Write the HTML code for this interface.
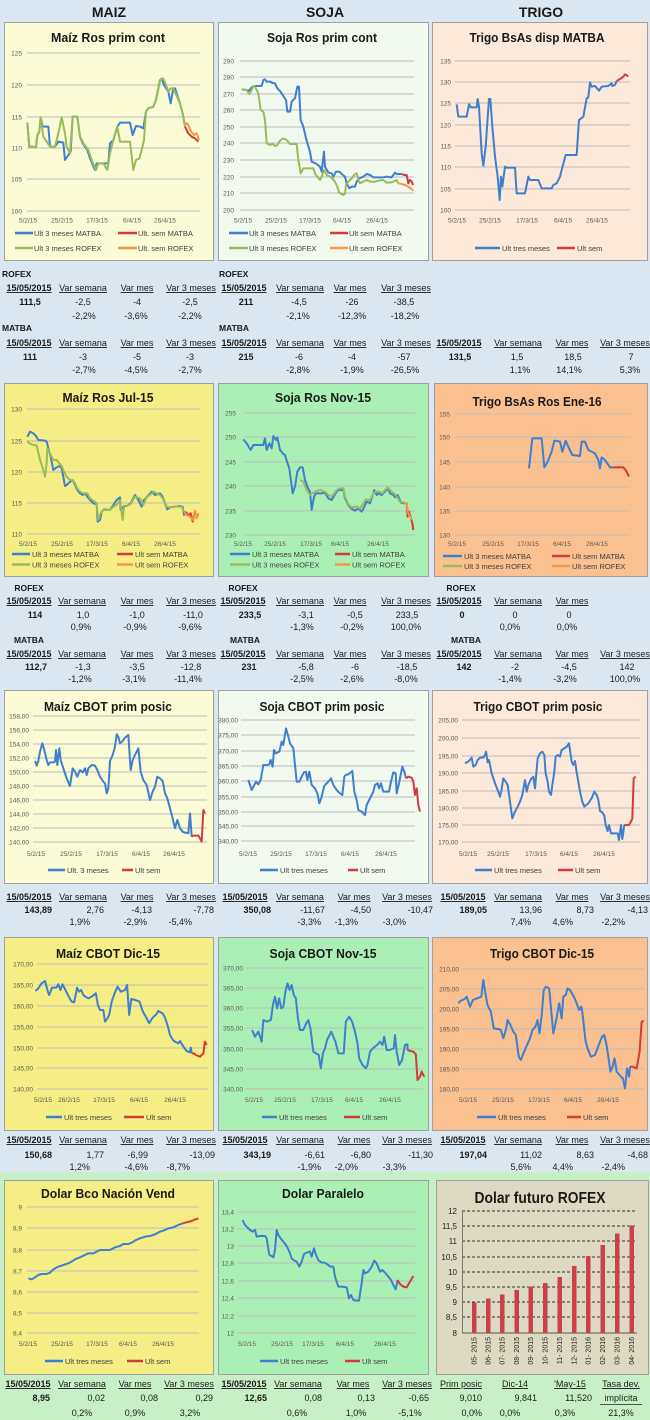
<!DOCTYPE html>
<html><head><meta charset="utf-8">
<style>
html,body{margin:0;padding:0;background:#dbe7f0}
svg{display:block}
text{font-family:"Liberation Sans",Arial,sans-serif}
.t{font-size:13px;font-weight:bold;fill:#1a1a1a;text-anchor:middle}
.yl{font-size:6.5px;fill:#595959;text-anchor:end}
.xl{font-size:6.5px;fill:#595959;text-anchor:middle}
.lg{font-size:7.5px;fill:#404040}
.g{stroke:#bcbcbc;stroke-width:1}
.bx{stroke:#a0a0a0;stroke-width:1}
.ln{fill:none;stroke-width:2;vector-effect:non-scaling-stroke;stroke-linejoin:round}
.b{stroke:#3f7fcf}.r{stroke:#d23b3b}.gr{stroke:#9bbb59}.o{stroke:#f79646}
.tb{font-size:9px;fill:#1a1a1a;text-anchor:middle}
.tb .e{text-anchor:end}
.h{text-decoration:underline}
.bd{font-weight:bold}
.lb{font-size:8.5px;font-weight:bold;fill:#1a1a1a}
</style></head><body>
<svg width="650" height="1420" viewBox="0 0 650 1420" xmlns="http://www.w3.org/2000/svg">
<rect x="0" y="0" width="650" height="1420" fill="#dbe7f0"/>
<rect x="0" y="1172" width="650" height="248" fill="#c8f0c8"/>

<!-- headers -->
<g font-size="14" font-weight="bold" fill="#1a1a1a" text-anchor="middle">
<text x="109" y="17">MAIZ</text><text x="325" y="17">SOJA</text><text x="541" y="17">TRIGO</text>
</g>

<!-- ============ ROW 1 ============ -->
<rect class="bx" x="4.5" y="22.5" width="209" height="238" fill="#fbfbd5"/>
<rect class="bx" x="218.5" y="22.5" width="210" height="238" fill="#f2f9ef"/>
<rect class="bx" x="432.5" y="22.5" width="215" height="238" fill="#fde9d9"/>

<!-- chart 1 Maiz Ros prim cont -->
<text class="t" x="108" y="42" textLength="114" lengthAdjust="spacingAndGlyphs">Maíz Ros prim cont</text>
<g class="g"><line x1="27" x2="200" y1="53" y2="53"/><line x1="27" x2="200" y1="85" y2="85"/><line x1="27" x2="200" y1="117" y2="117"/><line x1="27" x2="200" y1="148" y2="148"/><line x1="27" x2="200" y1="179" y2="179"/><line x1="27" x2="200" y1="211" y2="211"/></g>
<g class="yl"><text x="22" y="55.5">125</text><text x="22" y="87.5">120</text><text x="22" y="119.5">115</text><text x="22" y="150.5">110</text><text x="22" y="181.5">105</text><text x="22" y="213.5">100</text></g>
<g class="xl"><text x="28" y="222.5">5/2/15</text><text x="62" y="222.5">25/2/15</text><text x="97" y="222.5">17/3/15</text><text x="132" y="222.5">6/4/15</text><text x="165" y="222.5">26/4/15</text></g>
<g transform="scale(0.33333)">
<polyline class="ln b" points="82,368 88,440 100,440 108,442 112,405 118,395 122,352 128,380 145,380 150,440 165,440 175,425 190,428 195,480 205,465 212,455 218,350 232,350 240,410 248,430 255,440 262,450 270,475 285,510 290,490 325,490 330,430 340,420 352,380 360,368 390,368 398,405 408,378 420,380 430,385 438,335 445,325 460,320 468,300 480,240 485,236 492,255 505,275 512,310 520,265 525,265 540,310 548,340 555,380"/>
<polyline class="ln gr" points="82,368 88,440 100,440 108,442 112,405 118,395 122,352 130,410 150,440 165,440 175,400 185,352 195,400 200,440 210,460 218,350 232,350 240,410 250,430 265,450 275,480 288,510 295,490 310,490 322,510 330,460 340,420 352,380 360,425 390,425 400,510 408,480 418,475 425,450 432,420 438,335 445,325 460,320 468,300 480,240 490,236 500,260 505,275 512,265 520,265 540,310 548,340 555,380"/>
<polyline class="ln r" points="555,380 565,400 575,410 585,415 595,425"/>
<polyline class="ln o" points="555,372 562,370 572,392 582,405 590,400 597,420"/>
</g>
<g class="lg">
<line class="b" x1="15" x2="33" y1="233" y2="233" stroke-width="2.5"/><text x="34" y="236">Ult 3 meses MATBA</text>
<line class="r" x1="118" x2="137" y1="233" y2="233" stroke-width="2.5"/><text x="138" y="236">Ult. sem MATBA</text>
<line class="gr" x1="15" x2="33" y1="248" y2="248" stroke-width="2.5"/><text x="34" y="251">Ult 3 meses ROFEX</text>
<line class="o" x1="118" x2="137" y1="248" y2="248" stroke-width="2.5"/><text x="138" y="251">Ult. sem ROFEX</text>
</g>

<!-- chart 2 Soja Ros prim cont -->
<text class="t" x="322" y="42" textLength="110" lengthAdjust="spacingAndGlyphs">Soja Ros prim cont</text>
<g class="g"><line x1="240" x2="414" y1="61" y2="61"/><line x1="240" x2="414" y1="77" y2="77"/><line x1="240" x2="414" y1="94" y2="94"/><line x1="240" x2="414" y1="110" y2="110"/><line x1="240" x2="414" y1="127" y2="127"/><line x1="240" x2="414" y1="143" y2="143"/><line x1="240" x2="414" y1="160" y2="160"/><line x1="240" x2="414" y1="177" y2="177"/><line x1="240" x2="414" y1="193" y2="193"/><line x1="240" x2="414" y1="210" y2="210"/></g>
<g class="yl"><text x="234" y="63.5">290</text><text x="234" y="79.5">280</text><text x="234" y="96.5">270</text><text x="234" y="112.5">260</text><text x="234" y="129.5">250</text><text x="234" y="145.5">240</text><text x="234" y="162.5">230</text><text x="234" y="179.5">220</text><text x="234" y="195.5">210</text><text x="234" y="212.5">200</text></g>
<g class="xl"><text x="243" y="222.5">5/2/15</text><text x="276" y="222.5">25/2/15</text><text x="310" y="222.5">17/3/15</text><text x="342" y="222.5">6/4/15</text><text x="377" y="222.5">26/4/15</text></g>
<g transform="translate(200,20) scale(0.33333)">
<polyline class="ln b" points="125,208 140,210 148,212 152,205 158,200 165,198 185,198 190,180 195,178 200,185 210,185 215,188 225,190 232,205 240,213 248,225 258,240 262,275 270,275 275,245 285,235 292,200 297,200 302,300 310,320 318,355 330,395 335,425 342,428 350,432 360,440 365,455 372,395 375,440 385,458 395,460 400,470 408,455 418,455 425,462 435,470 440,490 448,505 455,500 465,500 470,485 478,475 490,470 500,462 510,465 520,472 550,472 560,470 575,472 580,465 585,458 590,462 605,462"/>
<polyline class="ln gr" points="125,208 140,210 148,222 152,215 160,200 165,200 175,220 182,270 190,275 195,300 200,370 210,375 218,372 225,378 232,375 240,362 250,355 260,360 270,372 290,372 295,420 302,460 310,445 340,445 345,460 350,468 360,480 365,470 372,450 380,465 390,470 400,478 410,495 418,518 430,525 435,520 438,495 445,485 455,475 465,462 470,460 475,478 480,490 490,485 500,480 510,485 520,486 535,482 550,480 560,488 570,488 580,485 590,480 595,490"/>
<polyline class="ln r" points="605,462 612,465 620,465 625,490 630,480 635,485 640,495"/>
<polyline class="ln o" points="595,490 605,492 615,495 625,500 632,505 640,512"/>
</g>
<g class="lg">
<line class="b" x1="229" x2="248" y1="233" y2="233" stroke-width="2.5"/><text x="249" y="236">Ult 3 meses MATBA</text>
<line class="r" x1="330" x2="348" y1="233" y2="233" stroke-width="2.5"/><text x="349" y="236">Ult sem MATBA</text>
<line class="gr" x1="229" x2="248" y1="248" y2="248" stroke-width="2.5"/><text x="249" y="251">Ult 3 meses ROFEX</text>
<line class="o" x1="330" x2="348" y1="248" y2="248" stroke-width="2.5"/><text x="349" y="251">Ult sem ROFEX</text>
</g>

<!-- chart 3 Trigo BsAs disp MATBA -->
<text class="t" x="537" y="42" textLength="135" lengthAdjust="spacingAndGlyphs">Trigo BsAs disp MATBA</text>
<g class="g"><line x1="455" x2="630" y1="61" y2="61"/><line x1="455" x2="630" y1="82" y2="82"/><line x1="455" x2="630" y1="103" y2="103"/><line x1="455" x2="630" y1="125" y2="125"/><line x1="455" x2="630" y1="146" y2="146"/><line x1="455" x2="630" y1="167" y2="167"/><line x1="455" x2="630" y1="189" y2="189"/><line x1="455" x2="630" y1="210" y2="210"/></g>
<g class="yl"><text x="451" y="63.5">135</text><text x="451" y="84.5">130</text><text x="451" y="105.5">125</text><text x="451" y="127.5">120</text><text x="451" y="148.5">115</text><text x="451" y="169.5">110</text><text x="451" y="191.5">105</text><text x="451" y="212.5">100</text></g>
<g class="xl"><text x="457" y="222.5">5/2/15</text><text x="490" y="222.5">25/2/15</text><text x="527" y="222.5">17/3/15</text><text x="563" y="222.5">6/4/15</text><text x="597" y="222.5">26/4/15</text></g>
<g transform="translate(325,0) scale(0.33333)">
<polyline class="ln b" points="395,313 400,350 425,350 432,313 438,322 455,322 458,297 462,320 470,460 475,497 482,440 492,297 496,297 502,380 510,470 518,530 524,600 528,530 532,560 540,500 545,503 570,503 575,580 600,580 610,530 615,540 640,540 650,565 680,565 685,555 695,550 705,530 710,510 722,465 755,465 762,360 775,350 785,295 790,292 795,247 800,260 810,258 822,272 830,260 850,258 860,250 862,258 870,255 875,243"/>
<polyline class="ln r" points="875,243 885,237 895,230 900,223 910,229"/>
</g>
<g class="lg">
<line class="b" x1="475" x2="500" y1="248" y2="248" stroke-width="2.5"/><text x="502" y="251">Ult tres meses</text>
<line class="r" x1="557" x2="575" y1="248" y2="248" stroke-width="2.5"/><text x="577" y="251">Ult sem</text>
</g>

<!-- row 1 tables -->
<g class="tb">
<text class="lb" x="2" y="277" text-anchor="start">ROFEX</text>
<text class="h bd" x="29" y="291">15/05/2015</text><text class="h" x="83" y="291">Var semana</text><text class="h" x="137" y="291">Var mes</text><text class="h" x="191" y="291">Var 3 meses</text>
<text class="bd" x="30" y="305">111,5</text><text x="83" y="305">-2,5</text><text x="137" y="305">-4</text><text x="190" y="305">-2,5</text>
<text x="84" y="319">-2,2%</text><text x="136" y="319">-3,6%</text><text x="190" y="319">-2,2%</text>
<text class="lb" x="2" y="331" text-anchor="start">MATBA</text>
<text class="h bd" x="29" y="346">15/05/2015</text><text class="h" x="83" y="346">Var semana</text><text class="h" x="137" y="346">Var mes</text><text class="h" x="191" y="346">Var 3 meses</text>
<text class="bd" x="30" y="360">111</text><text x="83" y="360">-3</text><text x="137" y="360">-5</text><text x="190" y="360">-3</text>
<text x="84" y="373">-2,7%</text><text x="136" y="373">-4,5%</text><text x="190" y="373">-2,7%</text>

<text class="lb" x="219" y="277" text-anchor="start">ROFEX</text>
<text class="h bd" x="244" y="291">15/05/2015</text><text class="h" x="300" y="291">Var semana</text><text class="h" x="350" y="291">Var mes</text><text class="h" x="406" y="291">Var 3 meses</text>
<text class="bd" x="246" y="305">211</text><text x="299" y="305">-4,5</text><text x="352" y="305">-26</text><text x="404" y="305">-38,5</text>
<text x="298" y="319">-2,1%</text><text x="352" y="319">-12,3%</text><text x="405" y="319">-18,2%</text>
<text class="lb" x="219" y="331" text-anchor="start">MATBA</text>
<text class="h bd" x="244" y="346">15/05/2015</text><text class="h" x="300" y="346">Var semana</text><text class="h" x="350" y="346">Var mes</text><text class="h" x="406" y="346">Var 3 meses</text>
<text class="bd" x="246" y="360">215</text><text x="299" y="360">-6</text><text x="352" y="360">-4</text><text x="404" y="360">-57</text>
<text x="298" y="373">-2,8%</text><text x="352" y="373">-1,9%</text><text x="405" y="373">-26,5%</text>

<text class="h bd" x="459" y="346">15/05/2015</text><text class="h" x="518" y="346">Var semana</text><text class="h" x="572" y="346">Var mes</text><text class="h" x="625" y="346">Var 3 meses</text>
<text class="bd" x="460" y="360">131,5</text><text x="517" y="360">1,5</text><text x="573" y="360">18,5</text><text x="631" y="360">7</text>
<text x="520" y="373">1,1%</text><text x="569" y="373">14,1%</text><text x="630" y="373">5,3%</text>
</g>

<!-- ============ ROW 2 ============ -->
<rect class="bx" x="4.5" y="383.5" width="209" height="193" fill="#f4ee84"/>
<rect class="bx" x="218.5" y="383.5" width="210" height="193" fill="#aaf0b5"/>
<rect class="bx" x="434.5" y="383.5" width="213" height="193" fill="#fac090"/>

<!-- Maiz Ros Jul-15 -->
<text class="t" x="108" y="402" textLength="91" lengthAdjust="spacingAndGlyphs">Maíz Ros Jul-15</text>
<g class="g"><line x1="27" x2="200" y1="409" y2="409"/><line x1="27" x2="200" y1="441" y2="441"/><line x1="27" x2="200" y1="472" y2="472"/><line x1="27" x2="200" y1="503" y2="503"/><line x1="27" x2="200" y1="534" y2="534"/></g>
<g class="yl"><text x="22" y="411.5">130</text><text x="22" y="443.5">125</text><text x="22" y="474.5">120</text><text x="22" y="505.5">115</text><text x="22" y="536.5">110</text></g>
<g class="xl"><text x="28" y="546">5/2/15</text><text x="62" y="546">25/2/15</text><text x="97" y="546">17/3/15</text><text x="131" y="546">6/4/15</text><text x="165" y="546">26/4/15</text></g>
<g transform="translate(0,380) scale(0.33333)">
<polyline class="ln b" points="82,170 90,155 100,160 108,168 115,180 135,182 140,185 145,205 152,230 160,270 170,262 178,258 185,265 190,290 195,318 200,315 210,305 218,300 225,315 232,330 240,340 248,345 255,340 262,350 270,360 280,370 290,372 293,425 300,420 305,395 312,388 330,390 340,375 350,360 360,352 362,390 372,378 380,378 392,370 405,345 415,360 425,380 432,360 440,352 455,335 465,345 480,340 488,350 495,370 502,388 510,382 525,380 540,378 548,380 552,405 558,395"/>
<polyline class="ln gr" points="82,182 88,190 100,195 110,196 120,240 130,270 135,290 140,250 142,205 150,220 160,240 170,240 178,250 185,258 192,275 200,290 210,300 218,300 225,310 232,325 240,335 250,340 262,340 270,355 280,362 290,370 295,420 302,400 310,390 330,390 340,380 350,375 360,360 368,420 372,380 380,378 392,372 405,350 420,355 430,375 440,350 450,345 460,335 470,340 480,345 488,355 500,380 510,382 525,380 545,380 552,395"/>
<polyline class="ln r" points="558,395 565,408 572,400 578,425 585,395 590,410 595,405"/>
<polyline class="ln o" points="552,395 560,405 570,410 578,420 585,392 590,415 595,400"/>
</g>
<g class="lg">
<line class="b" x1="12" x2="30" y1="554" y2="554" stroke-width="2.5"/><text x="32" y="557">Ult 3 meses MATBA</text>
<line class="r" x1="117" x2="133" y1="554" y2="554" stroke-width="2.5"/><text x="135" y="557">Ult sem MATBA</text>
<line class="gr" x1="12" x2="30" y1="564.5" y2="564.5" stroke-width="2.5"/><text x="32" y="567.5">Ult 3 meses ROFEX</text>
<line class="o" x1="117" x2="133" y1="564.5" y2="564.5" stroke-width="2.5"/><text x="135" y="567.5">Ult sem ROFEX</text>
</g>

<!-- Soja Ros Nov-15 -->
<text class="t" x="323" y="402" textLength="96" lengthAdjust="spacingAndGlyphs">Soja Ros Nov-15</text>
<g class="g"><line x1="245" x2="415" y1="413" y2="413"/><line x1="245" x2="415" y1="437" y2="437"/><line x1="245" x2="415" y1="462" y2="462"/><line x1="245" x2="415" y1="486" y2="486"/><line x1="245" x2="415" y1="511" y2="511"/><line x1="245" x2="415" y1="535" y2="535"/></g>
<g class="yl"><text x="236" y="415.5">255</text><text x="236" y="439.5">250</text><text x="236" y="464.5">245</text><text x="236" y="488.5">240</text><text x="236" y="513.5">235</text><text x="236" y="537.5">230</text></g>
<g class="xl"><text x="243" y="546">5/2/15</text><text x="275" y="546">25/2/15</text><text x="311" y="546">17/3/15</text><text x="340" y="546">6/4/15</text><text x="378" y="546">26/4/15</text></g>
<g transform="translate(0,380) scale(0.33333)">
<polyline class="ln b" points="730,178 740,190 752,210 760,195 790,195 795,175 800,210 808,190 815,205 820,168 828,180 832,172 840,210 850,222 855,225 862,248 868,265 872,295 878,340 885,320 892,275 900,262 908,262 915,300 922,320 930,335 935,390 942,350 948,340 965,340 975,338"/>
<polyline class="ln gr" points="900,300 910,305 920,330 930,345 938,340 948,333 960,330 975,335"/>
</g>
<g transform="translate(325,380) scale(0.33333)">
<polyline class="ln b" points="0,338 10,355 20,360 35,335 40,330 55,330 60,355 70,375 78,385 90,392 100,385 110,395 118,380 125,365 135,370 140,355 148,330 155,345 160,340 170,345 180,335 188,325 195,340 205,345 210,352 218,345 228,368 238,370"/>
<polyline class="ln gr" points="0,335 10,345 20,350 35,330 45,325 55,325 60,350 70,372 80,382 95,380 105,385 112,375 122,358 135,360 145,340 150,335 162,335 172,340 180,330 188,322 200,335 212,345 225,365 238,368"/>
<polyline class="ln r" points="238,370 245,370 248,410 252,395 258,415 262,430 265,450"/>
<polyline class="ln o" points="238,368 245,372 250,400 255,410 262,420"/>
</g>
<g class="lg">
<line class="b" x1="230" x2="250" y1="554" y2="554" stroke-width="2.5"/><text x="252" y="557">Ult 3 meses MATBA</text>
<line class="r" x1="335" x2="350" y1="554" y2="554" stroke-width="2.5"/><text x="352" y="557">Ult sem MATBA</text>
<line class="gr" x1="230" x2="250" y1="564.5" y2="564.5" stroke-width="2.5"/><text x="252" y="567.5">Ult 3 meses ROFEX</text>
<line class="o" x1="335" x2="350" y1="564.5" y2="564.5" stroke-width="2.5"/><text x="352" y="567.5">Ult sem ROFEX</text>
</g>

<!-- Trigo BsAs Ros Ene-16 -->
<text class="t" x="537" y="406" textLength="129" lengthAdjust="spacingAndGlyphs">Trigo BsAs Ros Ene-16</text>
<g class="g"><line x1="455" x2="630" y1="414" y2="414"/><line x1="455" x2="630" y1="437" y2="437"/><line x1="455" x2="630" y1="462" y2="462"/><line x1="455" x2="630" y1="487" y2="487"/><line x1="455" x2="630" y1="511" y2="511"/><line x1="455" x2="630" y1="535" y2="535"/></g>
<g class="yl"><text x="450" y="416.5">155</text><text x="450" y="439.5">150</text><text x="450" y="464.5">145</text><text x="450" y="489.5">140</text><text x="450" y="513.5">135</text><text x="450" y="537.5">130</text></g>
<g class="xl"><text x="457" y="546">5/2/15</text><text x="493" y="546">25/2/15</text><text x="528" y="546">17/3/15</text><text x="562" y="546">6/4/15</text><text x="597" y="546">26/4/15</text></g>
<g transform="translate(325,380) scale(0.33333)">
<polyline class="ln b" points="612,265 622,175 650,175 658,262 668,245 680,215 688,182 705,185 712,215 722,182 732,205 742,225 765,228 770,185 780,185 790,210 800,215 810,220 820,240 825,265 830,232 840,240 855,262 862,262"/>
<polyline class="ln r" points="862,262 895,262 905,275 912,290"/>
</g>
<g class="lg">
<line class="b" x1="443" x2="462" y1="556" y2="556" stroke-width="2.5"/><text x="464" y="559">Ult 3 meses MATBA</text>
<line class="r" x1="552" x2="570" y1="556" y2="556" stroke-width="2.5"/><text x="572" y="559">Ult sem MATBA</text>
<line class="gr" x1="443" x2="462" y1="566" y2="566" stroke-width="2.5"/><text x="464" y="569">Ult 3 meses ROFEX</text>
<line class="o" x1="552" x2="570" y1="566" y2="566" stroke-width="2.5"/><text x="572" y="569">Ult sem ROFEX</text>
</g>

<!-- row 2 tables -->
<g class="tb">
<text class="lb" x="29" y="591" text-anchor="middle">ROFEX</text>
<text class="h bd" x="29" y="604">15/05/2015</text><text class="h" x="82" y="604">Var semana</text><text class="h" x="137" y="604">Var mes</text><text class="h" x="191" y="604">Var 3 meses</text>
<text class="bd" x="35" y="618">114</text><text x="83" y="618">1,0</text><text x="137" y="618">-1,0</text><text x="193" y="618">-11,0</text>
<text x="81" y="630">0,9%</text><text x="135" y="630">-0,9%</text><text x="190" y="630">-9,6%</text>
<text class="lb" x="29" y="643" text-anchor="middle">MATBA</text>
<text class="h bd" x="29" y="657">15/05/2015</text><text class="h" x="82" y="657">Var semana</text><text class="h" x="137" y="657">Var mes</text><text class="h" x="191" y="657">Var 3 meses</text>
<text class="bd" x="36" y="670">112,7</text><text x="83" y="670">-1,3</text><text x="137" y="670">-3,5</text><text x="191" y="670">-12,8</text>
<text x="80" y="682">-1,2%</text><text x="134" y="682">-3,1%</text><text x="188" y="682">-11,4%</text>

<text class="lb" x="243" y="591" text-anchor="middle">ROFEX</text>
<text class="h bd" x="243" y="604">15/05/2015</text><text class="h" x="300" y="604">Var semana</text><text class="h" x="350" y="604">Var mes</text><text class="h" x="406" y="604">Var 3 meses</text>
<text class="bd" x="250" y="618">233,5</text><text x="306" y="618">-3,1</text><text x="355" y="618">-0,5</text><text x="407" y="618">233,5</text>
<text x="302" y="630">-1,3%</text><text x="352" y="630">-0,2%</text><text x="406" y="630">100,0%</text>
<text class="lb" x="245" y="643" text-anchor="middle">MATBA</text>
<text class="h bd" x="243" y="657">15/05/2015</text><text class="h" x="300" y="657">Var semana</text><text class="h" x="350" y="657">Var mes</text><text class="h" x="406" y="657">Var 3 meses</text>
<text class="bd" x="249" y="670">231</text><text x="306" y="670">-5,8</text><text x="355" y="670">-6</text><text x="407" y="670">-18,5</text>
<text x="302" y="682">-2,5%</text><text x="352" y="682">-2,6%</text><text x="406" y="682">-8,0%</text>

<text class="lb" x="461" y="591" text-anchor="middle">ROFEX</text>
<text class="h bd" x="459" y="604">15/05/2015</text><text class="h" x="518" y="604">Var semana</text><text class="h" x="572" y="604">Var mes</text>
<text class="bd" x="462" y="618">0</text><text x="515" y="618">0</text><text x="569" y="618">0</text>
<text x="510" y="630">0,0%</text><text x="567" y="630">0,0%</text>
<text class="lb" x="466" y="643" text-anchor="middle">MATBA</text>
<text class="h bd" x="459" y="657">15/05/2015</text><text class="h" x="518" y="657">Var semana</text><text class="h" x="572" y="657">Var mes</text><text class="h" x="625" y="657">Var 3 meses</text>
<text class="bd" x="464" y="670">142</text><text x="515" y="670">-2</text><text x="569" y="670">-4,5</text><text x="627" y="670">142</text>
<text x="510" y="682">-1,4%</text><text x="565" y="682">-3,2%</text><text x="625" y="682">100,0%</text>
</g>

<!-- ============ ROW 3 ============ -->
<rect class="bx" x="4.5" y="690.5" width="209" height="193" fill="#fbfbd5"/>
<rect class="bx" x="218.5" y="690.5" width="210" height="193" fill="#f2f9ef"/>
<rect class="bx" x="432.5" y="690.5" width="215" height="193" fill="#fde9d9"/>

<!-- Maiz CBOT prim posic -->
<text class="t" x="108" y="711" textLength="128" lengthAdjust="spacingAndGlyphs">Maíz CBOT prim posic</text>
<g class="g"><line x1="33" x2="207" y1="716" y2="716"/><line x1="33" x2="207" y1="730" y2="730"/><line x1="33" x2="207" y1="744" y2="744"/><line x1="33" x2="207" y1="758" y2="758"/><line x1="33" x2="207" y1="772" y2="772"/><line x1="33" x2="207" y1="786" y2="786"/><line x1="33" x2="207" y1="800" y2="800"/><line x1="33" x2="207" y1="814" y2="814"/><line x1="33" x2="207" y1="828" y2="828"/><line x1="33" x2="207" y1="842" y2="842"/></g>
<g class="yl"><text x="29" y="718.5">158,00</text><text x="29" y="732.5">156,00</text><text x="29" y="746.5">154,00</text><text x="29" y="760.5">152,00</text><text x="29" y="774.5">150,00</text><text x="29" y="788.5">148,00</text><text x="29" y="802.5">146,00</text><text x="29" y="816.5">144,00</text><text x="29" y="830.5">142,00</text><text x="29" y="844.5">140,00</text></g>
<g class="xl"><text x="36" y="856">5/2/15</text><text x="71" y="856">25/2/15</text><text x="107" y="856">17/3/15</text><text x="141" y="856">6/4/15</text><text x="174" y="856">26/4/15</text></g>
<g transform="translate(0,685) scale(0.33333)">
<polyline class="ln b" points="105,228 110,242 115,228 120,200 127,175 133,195 140,225 145,240 150,232 160,232 165,230 168,195 172,240 178,190 182,225 190,250 200,280 210,303 218,250 225,260 232,275 240,255 248,262 255,250 260,270 265,250 275,240 285,242 292,255 300,275 310,290 315,295 320,325 325,310 330,228 338,210 345,185 350,148 355,155 360,175 368,168 375,158 385,150 392,255 398,225 405,210 415,190 422,260 430,285 440,300 450,345 458,320 465,305 472,275 480,280 488,288 495,325 502,340 510,370 518,400 525,430 532,405 540,430 548,440 555,443 565,445 570,385 575,455"/>
<polyline class="ln r" points="575,455 580,452 595,452 600,460 605,470 610,375 615,385"/>
</g>
<g class="lg">
<line class="b" x1="48" x2="65" y1="870" y2="870" stroke-width="2.5"/><text x="67" y="873">Ult. 3 meses</text>
<line class="r" x1="122" x2="133" y1="870" y2="870" stroke-width="2.5"/><text x="135" y="873">Ult sem</text>
</g>

<!-- Soja CBOT prim posic -->
<text class="t" x="322" y="711" textLength="125" lengthAdjust="spacingAndGlyphs">Soja CBOT prim posic</text>
<g class="g"><line x1="241" x2="415" y1="720" y2="720"/><line x1="241" x2="415" y1="735" y2="735"/><line x1="241" x2="415" y1="751" y2="751"/><line x1="241" x2="415" y1="766" y2="766"/><line x1="241" x2="415" y1="781" y2="781"/><line x1="241" x2="415" y1="797" y2="797"/><line x1="241" x2="415" y1="812" y2="812"/><line x1="241" x2="415" y1="826" y2="826"/><line x1="241" x2="415" y1="841" y2="841"/></g>
<g class="yl"><text x="238" y="722.5">380,00</text><text x="238" y="737.5">375,00</text><text x="238" y="753.5">370,00</text><text x="238" y="768.5">365,00</text><text x="238" y="783.5">360,00</text><text x="238" y="799.5">355,00</text><text x="238" y="814.5">350,00</text><text x="238" y="828.5">345,00</text><text x="238" y="843.5">340,00</text></g>
<g class="xl"><text x="248" y="856">5/2/15</text><text x="281" y="856">25/2/15</text><text x="316" y="856">17/3/15</text><text x="350" y="856">6/4/15</text><text x="386" y="856">26/4/15</text></g>
<g transform="translate(0,685) scale(0.33333)">
<polyline class="ln b" points="745,285 750,300 755,315 762,302 768,290 775,298 782,285 790,240 800,240 808,238 812,225 818,245 822,195 828,205 838,200 845,170 850,180 858,130 865,155 870,175 880,190 890,290 898,290 905,275 912,262 918,260 922,285 928,260 935,300 945,310 952,325 958,355 965,335 972,305 975,300"/>
</g>
<g transform="translate(325,685) scale(0.33333)">
<polyline class="ln b" points="0,300 10,290 18,280 25,300 35,315 45,325 52,330 58,275 62,270 70,268 82,258 88,320 95,345 100,375 110,380 120,390 125,360 135,340 145,320 150,300 158,295 162,310 168,295 175,320 192,320 198,290 205,262 212,265 215,325 222,295 232,245 238,260 243,280"/>
<polyline class="ln r" points="243,280 250,275 260,278 265,290 270,330 275,310 280,360 285,380"/>
</g>
<g class="lg">
<line class="b" x1="260" x2="278" y1="870" y2="870" stroke-width="2.5"/><text x="280" y="873">Ult tres meses</text>
<line class="r" x1="348" x2="358" y1="870" y2="870" stroke-width="2.5"/><text x="360" y="873">Ult sem</text>
</g>

<!-- Trigo CBOT prim posic -->
<text class="t" x="538" y="711" textLength="129" lengthAdjust="spacingAndGlyphs">Trigo CBOT prim posic</text>
<g class="g"><line x1="462" x2="640" y1="720" y2="720"/><line x1="462" x2="640" y1="738" y2="738"/><line x1="462" x2="640" y1="756" y2="756"/><line x1="462" x2="640" y1="773" y2="773"/><line x1="462" x2="640" y1="791" y2="791"/><line x1="462" x2="640" y1="808" y2="808"/><line x1="462" x2="640" y1="825" y2="825"/><line x1="462" x2="640" y1="842" y2="842"/></g>
<g class="yl"><text x="458" y="722.5">205,00</text><text x="458" y="740.5">200,00</text><text x="458" y="758.5">195,00</text><text x="458" y="775.5">190,00</text><text x="458" y="793.5">185,00</text><text x="458" y="810.5">180,00</text><text x="458" y="827.5">175,00</text><text x="458" y="844.5">170,00</text></g>
<g class="xl"><text x="468" y="856">5/2/15</text><text x="498" y="856">25/2/15</text><text x="536" y="856">17/3/15</text><text x="569" y="856">6/4/15</text><text x="604" y="856">26/4/15</text></g>
<g transform="translate(325,685) scale(0.33333)">
<polyline class="ln b" points="420,235 425,232 432,228 440,218 445,245 452,240 458,225 465,218 475,218 480,210 483,200 488,232 492,225 500,265 510,295 518,315 525,335 530,312 535,280 542,290 548,300 555,350 562,400 570,380 578,365 585,350 592,330 600,285 605,320 610,300 618,282 625,275 630,310 638,220 645,205 652,200 658,210 662,265 668,290 672,320 678,330 682,300 688,260 692,215 698,210 705,215 710,195 715,192 725,185 732,175 740,230 745,240 750,228 755,262 760,290 765,320 772,350 778,365 790,355 800,340 808,320 815,330 820,345 825,378 832,382 838,392 842,420 848,438 852,420 858,445 870,445 878,445 882,465 888,420 892,462 898,420"/>
<polyline class="ln r" points="898,420 912,420 918,410 922,400 926,280 932,275"/>
</g>
<g class="lg">
<line class="b" x1="475" x2="492" y1="870" y2="870" stroke-width="2.5"/><text x="494" y="873">Ult tres meses</text>
<line class="r" x1="558" x2="573" y1="870" y2="870" stroke-width="2.5"/><text x="575" y="873">Ult sem</text>
</g>

<!-- row 3 tables -->
<g class="tb">
<text class="h bd" x="29" y="900">15/05/2015</text><text class="h" x="83" y="900">Var semana</text><text class="h" x="137" y="900">Var mes</text><text class="h" x="191" y="900">Var 3 meses</text>
<text class="bd e" x="52" y="913">143,89</text><text class="e" x="104" y="913">2,76</text><text class="e" x="152" y="913">-4,13</text><text class="e" x="214" y="913">-7,78</text>
<text class="e" x="90" y="925">1,9%</text><text class="e" x="147" y="925">-2,9%</text><text class="e" x="192" y="925">-5,4%</text>
<text class="h bd" x="245" y="900">15/05/2015</text><text class="h" x="300" y="900">Var semana</text><text class="h" x="354" y="900">Var mes</text><text class="h" x="407" y="900">Var 3 meses</text>
<text class="bd e" x="271" y="913">350,08</text><text class="e" x="325" y="913">-11,67</text><text class="e" x="371" y="913">-4,50</text><text class="e" x="433" y="913">-10,47</text>
<text class="e" x="321" y="925">-3,3%</text><text class="e" x="358" y="925">-1,3%</text><text class="e" x="406" y="925">-3,0%</text>
<text class="h bd" x="463" y="900">15/05/2015</text><text class="h" x="518" y="900">Var semana</text><text class="h" x="572" y="900">Var mes</text><text class="h" x="625" y="900">Var 3 meses</text>
<text class="bd e" x="487" y="913">189,05</text><text class="e" x="542" y="913">13,96</text><text class="e" x="594" y="913">8,73</text><text class="e" x="648" y="913">-4,13</text>
<text class="e" x="531" y="925">7,4%</text><text class="e" x="573" y="925">4,6%</text><text class="e" x="625" y="925">-2,2%</text>
</g>

<!-- ============ ROW 4 ============ -->
<rect class="bx" x="4.5" y="937.5" width="209" height="193" fill="#f4ee84"/>
<rect class="bx" x="218.5" y="937.5" width="210" height="193" fill="#aaf0b5"/>
<rect class="bx" x="432.5" y="937.5" width="215" height="193" fill="#fac090"/>

<!-- Maiz CBOT Dic-15 -->
<text class="t" x="108" y="958" textLength="104" lengthAdjust="spacingAndGlyphs">Maíz CBOT Dic-15</text>
<g class="g"><line x1="37" x2="208" y1="964" y2="964"/><line x1="37" x2="208" y1="985" y2="985"/><line x1="37" x2="208" y1="1006" y2="1006"/><line x1="37" x2="208" y1="1027" y2="1027"/><line x1="37" x2="208" y1="1048" y2="1048"/><line x1="37" x2="208" y1="1068" y2="1068"/><line x1="37" x2="208" y1="1089" y2="1089"/></g>
<g class="yl"><text x="33" y="966.5">170,00</text><text x="33" y="987.5">165,00</text><text x="33" y="1008.5">160,00</text><text x="33" y="1029.5">155,00</text><text x="33" y="1050.5">150,00</text><text x="33" y="1070.5">145,00</text><text x="33" y="1091.5">140,00</text></g>
<g class="xl"><text x="43" y="1102">5/2/15</text><text x="69" y="1102">26/2/15</text><text x="104" y="1102">17/3/15</text><text x="139" y="1102">6/4/15</text><text x="175" y="1102">26/4/15</text></g>
<g transform="translate(0,925) scale(0.416667,0.33333)">
<polyline class="ln b" points="85,198 92,190 100,175 108,168 115,200 118,210 125,188 135,188 140,178 145,195 150,178 155,190 165,215 172,230 178,232 185,188 190,200 195,195 200,210 205,215 212,220 220,215 230,205 235,240 240,255 248,255 252,290 258,280 262,270 268,230 275,205 282,185 290,200 300,195 305,180 310,270 315,222 325,225 335,230 340,250 345,265 350,275 358,295 365,280 375,268 380,258 390,265 395,275 402,300 408,330 415,345 420,350 428,355 432,348 440,365 448,378 455,382 458,368 460,385"/>
<polyline class="ln r" points="460,385 465,385 470,390 480,395 488,385 492,350 496,360"/>
</g>
<g class="lg">
<line class="b" x1="46" x2="62" y1="1117" y2="1117" stroke-width="2.5"/><text x="64" y="1120">Ult tres meses</text>
<line class="r" x1="124" x2="144" y1="1117" y2="1117" stroke-width="2.5"/><text x="146" y="1120">Ult sem</text>
</g>

<!-- Soja CBOT Nov-15 -->
<text class="t" x="323" y="958" textLength="107" lengthAdjust="spacingAndGlyphs">Soja CBOT Nov-15</text>
<g class="g"><line x1="246" x2="423" y1="968" y2="968"/><line x1="246" x2="423" y1="988" y2="988"/><line x1="246" x2="423" y1="1008" y2="1008"/><line x1="246" x2="423" y1="1028" y2="1028"/><line x1="246" x2="423" y1="1049" y2="1049"/><line x1="246" x2="423" y1="1069" y2="1069"/><line x1="246" x2="423" y1="1089" y2="1089"/></g>
<g class="yl"><text x="243" y="970.5">370,00</text><text x="243" y="990.5">365,00</text><text x="243" y="1010.5">360,00</text><text x="243" y="1030.5">355,00</text><text x="243" y="1051.5">350,00</text><text x="243" y="1071.5">345,00</text><text x="243" y="1091.5">340,00</text></g>
<g class="xl"><text x="254" y="1102">5/2/15</text><text x="285" y="1102">25/2/15</text><text x="322" y="1102">17/3/15</text><text x="354" y="1102">6/4/15</text><text x="390" y="1102">26/4/15</text></g>
<g transform="translate(0,925) scale(0.416667,0.33333)">
<polyline class="ln b" points="605,315 612,335 620,320 628,350 632,285 640,290 650,285 655,240 660,215 665,250 670,220 675,250 680,245 685,200 690,175 695,195 700,180 705,210 710,220 715,280 720,315 728,315 735,295 740,285 745,310 752,380 758,385 765,390 770,430 775,385 780,370 785,345 795,320 805,350 812,385 825,385 830,290 838,275 845,290 852,320 858,355 862,400 870,420 878,430 882,420 888,380 895,370 905,360 912,350 918,360 922,335 928,375 935,375 945,370 948,330 952,380 958,420 965,405 972,360 978,358 978,375"/>
<polyline class="ln r" points="978,375 985,378 992,380 998,388 1002,465 1008,455 1012,440 1018,455"/>
</g>
<g class="lg">
<line class="b" x1="262" x2="277" y1="1117" y2="1117" stroke-width="2.5"/><text x="279" y="1120">Ult tres meses</text>
<line class="r" x1="344" x2="360" y1="1117" y2="1117" stroke-width="2.5"/><text x="362" y="1120">Ult sem</text>
</g>

<!-- Trigo CBOT Dic-15 -->
<text class="t" x="542" y="958" textLength="104" lengthAdjust="spacingAndGlyphs">Trigo CBOT Dic-15</text>
<g class="g"><line x1="462" x2="644" y1="969" y2="969"/><line x1="462" x2="644" y1="989" y2="989"/><line x1="462" x2="644" y1="1009" y2="1009"/><line x1="462" x2="644" y1="1029" y2="1029"/><line x1="462" x2="644" y1="1049" y2="1049"/><line x1="462" x2="644" y1="1069" y2="1069"/><line x1="462" x2="644" y1="1089" y2="1089"/></g>
<g class="yl"><text x="459" y="971.5">210,00</text><text x="459" y="991.5">205,00</text><text x="459" y="1011.5">200,00</text><text x="459" y="1031.5">195,00</text><text x="459" y="1051.5">190,00</text><text x="459" y="1071.5">185,00</text><text x="459" y="1091.5">180,00</text></g>
<g class="xl"><text x="468" y="1102">5/2/15</text><text x="503" y="1102">25/2/15</text><text x="539" y="1102">17/3/15</text><text x="573" y="1102">6/4/15</text><text x="608" y="1102">26/4/15</text></g>
<g transform="translate(0,925) scale(0.416667,0.33333)">
<polyline class="ln b" points="1100,235 1105,228 1115,222 1120,215 1128,245 1135,225 1145,220 1155,215 1160,165 1165,205 1170,240 1178,260 1185,310 1195,312 1202,315 1208,340 1215,310 1218,285 1225,300 1232,320 1238,330 1245,395 1250,405 1258,380 1265,360 1272,340 1278,315 1285,305 1290,285 1295,325 1300,270 1305,195 1310,185 1318,190 1322,245 1328,325 1335,285 1342,235 1348,280 1352,215 1358,210 1362,190 1368,195 1375,210 1380,222 1390,255 1395,245 1398,265 1405,345 1410,370 1418,395 1428,390 1440,350 1445,335 1450,330 1455,355 1460,395 1465,440 1470,425 1475,400 1480,440 1490,455 1495,460 1500,490 1505,430 1510,455 1512,425"/>
<polyline class="ln r" points="1512,425 1518,425 1528,430 1535,380 1540,290 1545,288"/>
</g>
<g class="lg">
<line class="b" x1="477" x2="496" y1="1117" y2="1117" stroke-width="2.5"/><text x="498" y="1120">Ult tres meses</text>
<line class="r" x1="567" x2="581" y1="1117" y2="1117" stroke-width="2.5"/><text x="583" y="1120">Ult sem</text>
</g>

<!-- row 4 tables -->
<g class="tb">
<text class="h bd" x="29" y="1143">15/05/2015</text><text class="h" x="83" y="1143">Var semana</text><text class="h" x="137" y="1143">Var mes</text><text class="h" x="191" y="1143">Var 3 meses</text>
<text class="bd e" x="52" y="1158">150,68</text><text class="e" x="104" y="1158">1,77</text><text class="e" x="148" y="1158">-6,99</text><text class="e" x="215" y="1158">-13,09</text>
<text class="e" x="90" y="1170">1,2%</text><text class="e" x="148" y="1170">-4,6%</text><text class="e" x="190" y="1170">-8,7%</text>
<text class="h bd" x="245" y="1143">15/05/2015</text><text class="h" x="300" y="1143">Var semana</text><text class="h" x="354" y="1143">Var mes</text><text class="h" x="407" y="1143">Var 3 meses</text>
<text class="bd e" x="271" y="1158">343,19</text><text class="e" x="325" y="1158">-6,61</text><text class="e" x="371" y="1158">-6,80</text><text class="e" x="433" y="1158">-11,30</text>
<text class="e" x="321" y="1170">-1,9%</text><text class="e" x="358" y="1170">-2,0%</text><text class="e" x="406" y="1170">-3,3%</text>
<text class="h bd" x="463" y="1143">15/05/2015</text><text class="h" x="518" y="1143">Var semana</text><text class="h" x="572" y="1143">Var mes</text><text class="h" x="625" y="1143">Var 3 meses</text>
<text class="bd e" x="487" y="1158">197,04</text><text class="e" x="542" y="1158">11,02</text><text class="e" x="594" y="1158">8,63</text><text class="e" x="648" y="1158">-4,68</text>
<text class="e" x="531" y="1170">5,6%</text><text class="e" x="573" y="1170">4,4%</text><text class="e" x="625" y="1170">-2,4%</text>
</g>

<!-- ============ ROW 5 ============ -->
<rect class="bx" x="4.5" y="1180.5" width="209" height="194" fill="#f4ee84"/>
<rect class="bx" x="218.5" y="1180.5" width="210" height="194" fill="#aaf0b5"/>
<rect class="bx" x="436.5" y="1180.5" width="212" height="194" fill="#ddd9c3"/>

<!-- Dolar Bco Nacion Vend -->
<text class="t" x="108" y="1198" textLength="134" lengthAdjust="spacingAndGlyphs">Dolar Bco Nación Vend</text>
<g class="g"><line x1="27" x2="199" y1="1207" y2="1207"/><line x1="27" x2="199" y1="1228" y2="1228"/><line x1="27" x2="199" y1="1250" y2="1250"/><line x1="27" x2="199" y1="1271" y2="1271"/><line x1="27" x2="199" y1="1292" y2="1292"/><line x1="27" x2="199" y1="1313" y2="1313"/><line x1="27" x2="199" y1="1333" y2="1333"/></g>
<g class="yl"><text x="22" y="1209.5">9</text><text x="22" y="1230.5">8,9</text><text x="22" y="1252.5">8,8</text><text x="22" y="1273.5">8,7</text><text x="22" y="1294.5">8,6</text><text x="22" y="1315.5">8,5</text><text x="22" y="1335.5">8,4</text></g>
<g class="xl"><text x="28" y="1346">5/2/15</text><text x="62" y="1346">25/2/15</text><text x="97" y="1346">17/3/15</text><text x="128" y="1346">6/4/15</text><text x="163" y="1346">26/4/15</text></g>
<g transform="translate(0,1170) scale(0.33333)">
<polyline class="ln b" points="85,325 95,328 105,322 115,315 125,312 140,312 150,308 160,298 175,290 190,285 205,280 215,275 225,268 240,262 255,255 265,250 280,250 290,245 300,240 330,240 345,232 360,228 370,222 385,222 395,218 408,210 420,205 435,200 450,198 465,193 480,185 495,180 505,175 520,172 535,165 548,160"/>
<polyline class="ln r" points="548,160 560,157 575,153 585,148 595,146"/>
</g>
<g class="lg">
<line class="b" x1="45" x2="63" y1="1361" y2="1361" stroke-width="2.5"/><text x="65" y="1364">Ult tres meses</text>
<line class="r" x1="127" x2="143" y1="1361" y2="1361" stroke-width="2.5"/><text x="145" y="1364">Ult sem</text>
</g>

<!-- Dolar Paralelo -->
<text class="t" x="323" y="1198" textLength="82" lengthAdjust="spacingAndGlyphs">Dolar Paralelo</text>
<g class="g"><line x1="238" x2="415" y1="1212" y2="1212"/><line x1="238" x2="415" y1="1229" y2="1229"/><line x1="238" x2="415" y1="1246" y2="1246"/><line x1="238" x2="415" y1="1263" y2="1263"/><line x1="238" x2="415" y1="1281" y2="1281"/><line x1="238" x2="415" y1="1298" y2="1298"/><line x1="238" x2="415" y1="1316" y2="1316"/><line x1="238" x2="415" y1="1333" y2="1333"/></g>
<g class="yl"><text x="234" y="1214.5">13,4</text><text x="234" y="1231.5">13,2</text><text x="234" y="1248.5">13</text><text x="234" y="1265.5">12,8</text><text x="234" y="1283.5">12,6</text><text x="234" y="1300.5">12,4</text><text x="234" y="1318.5">12,2</text><text x="234" y="1335.5">12</text></g>
<g class="xl"><text x="247" y="1346">5/2/15</text><text x="282" y="1346">25/2/15</text><text x="313" y="1346">17/3/15</text><text x="345" y="1346">6/4/15</text><text x="385" y="1346">26/4/15</text></g>
<g transform="translate(0,1170) scale(0.33333)">
<polyline class="ln b" points="728,150 735,165 742,172 750,180 758,185 765,180 770,200 780,198 795,198 800,205 808,255 815,258 820,262 825,240 830,180 835,195 842,205 850,215 858,225 865,238 870,250 875,265 880,270 890,275 898,290 905,275 912,252 920,248 930,245 935,260 942,235 948,255 955,270 965,278 975,278"/>
</g>
<g transform="translate(325,1170) scale(0.33333)">
<polyline class="ln b" points="0,278 10,285 15,290 25,290 30,320 40,350 50,350 65,352 72,385 78,375 85,390 95,392 102,392 110,340 115,300 120,310 130,305 140,290 148,272 155,280 165,305 172,300 182,310 190,320 198,330 205,345 212,358 218,330"/>
<polyline class="ln r" points="218,330 225,342 235,350 245,352 255,335 265,318"/>
</g>
<g class="lg">
<line class="b" x1="260" x2="278" y1="1361" y2="1361" stroke-width="2.5"/><text x="280" y="1364">Ult tres meses</text>
<line class="r" x1="345" x2="360" y1="1361" y2="1361" stroke-width="2.5"/><text x="362" y="1364">Ult sem</text>
</g>

<!-- Dolar futuro ROFEX -->
<text x="540" y="1203" font-size="16" font-weight="bold" fill="#1a1a1a" text-anchor="middle" textLength="131" lengthAdjust="spacingAndGlyphs">Dolar futuro ROFEX</text>
<g stroke="#333" stroke-width="1" stroke-dasharray="3,2"><line x1="462" x2="637" y1="1211" y2="1211"/><line x1="462" x2="637" y1="1226" y2="1226"/><line x1="462" x2="637" y1="1241" y2="1241"/><line x1="462" x2="637" y1="1257" y2="1257"/><line x1="462" x2="637" y1="1272" y2="1272"/><line x1="462" x2="637" y1="1287" y2="1287"/><line x1="462" x2="637" y1="1302" y2="1302"/><line x1="462" x2="637" y1="1317" y2="1317"/></g>
<line x1="462" x2="637" y1="1333" y2="1333" stroke="#555" stroke-width="1"/>
<line x1="462.5" x2="462.5" y1="1211" y2="1333" stroke="#777" stroke-width="1"/>
<g font-size="8" fill="#222" text-anchor="end"><text x="457" y="1214">12</text><text x="457" y="1229">11,5</text><text x="457" y="1244">11</text><text x="457" y="1260">10,5</text><text x="457" y="1275">10</text><text x="457" y="1290">9,5</text><text x="457" y="1305">9</text><text x="457" y="1320">8,5</text><text x="457" y="1336">8</text></g>
<g fill="#cf3f48">
<rect x="472" y="1302.5" width="4.5" height="30.5"/>
<rect x="486" y="1298.5" width="4.5" height="34.5"/>
<rect x="500" y="1294.5" width="4.5" height="38.5"/>
<rect x="514.5" y="1290" width="4.5" height="43"/>
<rect x="528.5" y="1286.5" width="4.5" height="46.5"/>
<rect x="543" y="1283" width="4.5" height="50"/>
<rect x="557.5" y="1277" width="4.5" height="56"/>
<rect x="572" y="1266" width="4.5" height="67"/>
<rect x="586" y="1256" width="4.5" height="77"/>
<rect x="600.5" y="1245" width="4.5" height="88"/>
<rect x="615" y="1233.5" width="4.5" height="99.5"/>
<rect x="629.5" y="1225.5" width="4.5" height="107.5"/>
</g>
<g font-size="7" fill="#222" text-anchor="end">
<text transform="translate(476.5,1337) rotate(-90)">05- 2015</text>
<text transform="translate(490.5,1337) rotate(-90)">06- 2015</text>
<text transform="translate(504.5,1337) rotate(-90)">07- 2015</text>
<text transform="translate(519,1337) rotate(-90)">08- 2015</text>
<text transform="translate(533,1337) rotate(-90)">09- 2015</text>
<text transform="translate(547.5,1337) rotate(-90)">10- 2015</text>
<text transform="translate(562,1337) rotate(-90)">11- 2015</text>
<text transform="translate(576.5,1337) rotate(-90)">12- 2015</text>
<text transform="translate(590.5,1337) rotate(-90)">01- 2016</text>
<text transform="translate(605,1337) rotate(-90)">02- 2016</text>
<text transform="translate(619.5,1337) rotate(-90)">03- 2016</text>
<text transform="translate(634,1337) rotate(-90)">04- 2016</text>
</g>

<!-- row 5 tables -->
<g class="tb">
<text class="h bd" x="28" y="1387">15/05/2015</text><text class="h" x="82" y="1387">Var semana</text><text class="h" x="135" y="1387">Var mes</text><text class="h" x="189" y="1387">Var 3 meses</text>
<text class="bd e" x="50" y="1401">8,95</text><text class="e" x="105" y="1401">0,02</text><text class="e" x="158" y="1401">0,08</text><text class="e" x="213" y="1401">0,29</text>
<text x="82" y="1416">0,2%</text><text x="135" y="1416">0,9%</text><text x="190" y="1416">3,2%</text>
<text class="h bd" x="244" y="1387">15/05/2015</text><text class="h" x="298" y="1387">Var semana</text><text class="h" x="353" y="1387">Var mes</text><text class="h" x="407" y="1387">Var 3 meses</text>
<text class="bd e" x="267" y="1401">12,65</text><text class="e" x="322" y="1401">0,08</text><text class="e" x="375" y="1401">0,13</text><text class="e" x="429" y="1401">-0,65</text>
<text x="297" y="1416">0,6%</text><text x="356" y="1416">1,0%</text><text x="410" y="1416">-5,1%</text>
<text class="h" x="461" y="1387">Prim posic</text><text class="h" x="515" y="1387">Dic-14</text><text class="h" x="570" y="1387">'May-15</text><text class="h" x="621" y="1387">Tasa dev.</text>
<text class="e" x="482" y="1401">9,010</text><text class="e" x="537" y="1401">9,841</text><text class="e" x="592" y="1401">11,520</text><text x="621" y="1401">implícita</text>
<text class="e" x="482" y="1416">0,0%</text><text x="510" y="1416">0,0%</text><text x="565" y="1416">0,3%</text><text x="621" y="1416">21,3%</text>
</g>
<line x1="600" x2="642" y1="1404.5" y2="1404.5" stroke="#222" stroke-width="0.8"/>
</svg>
</body></html>
